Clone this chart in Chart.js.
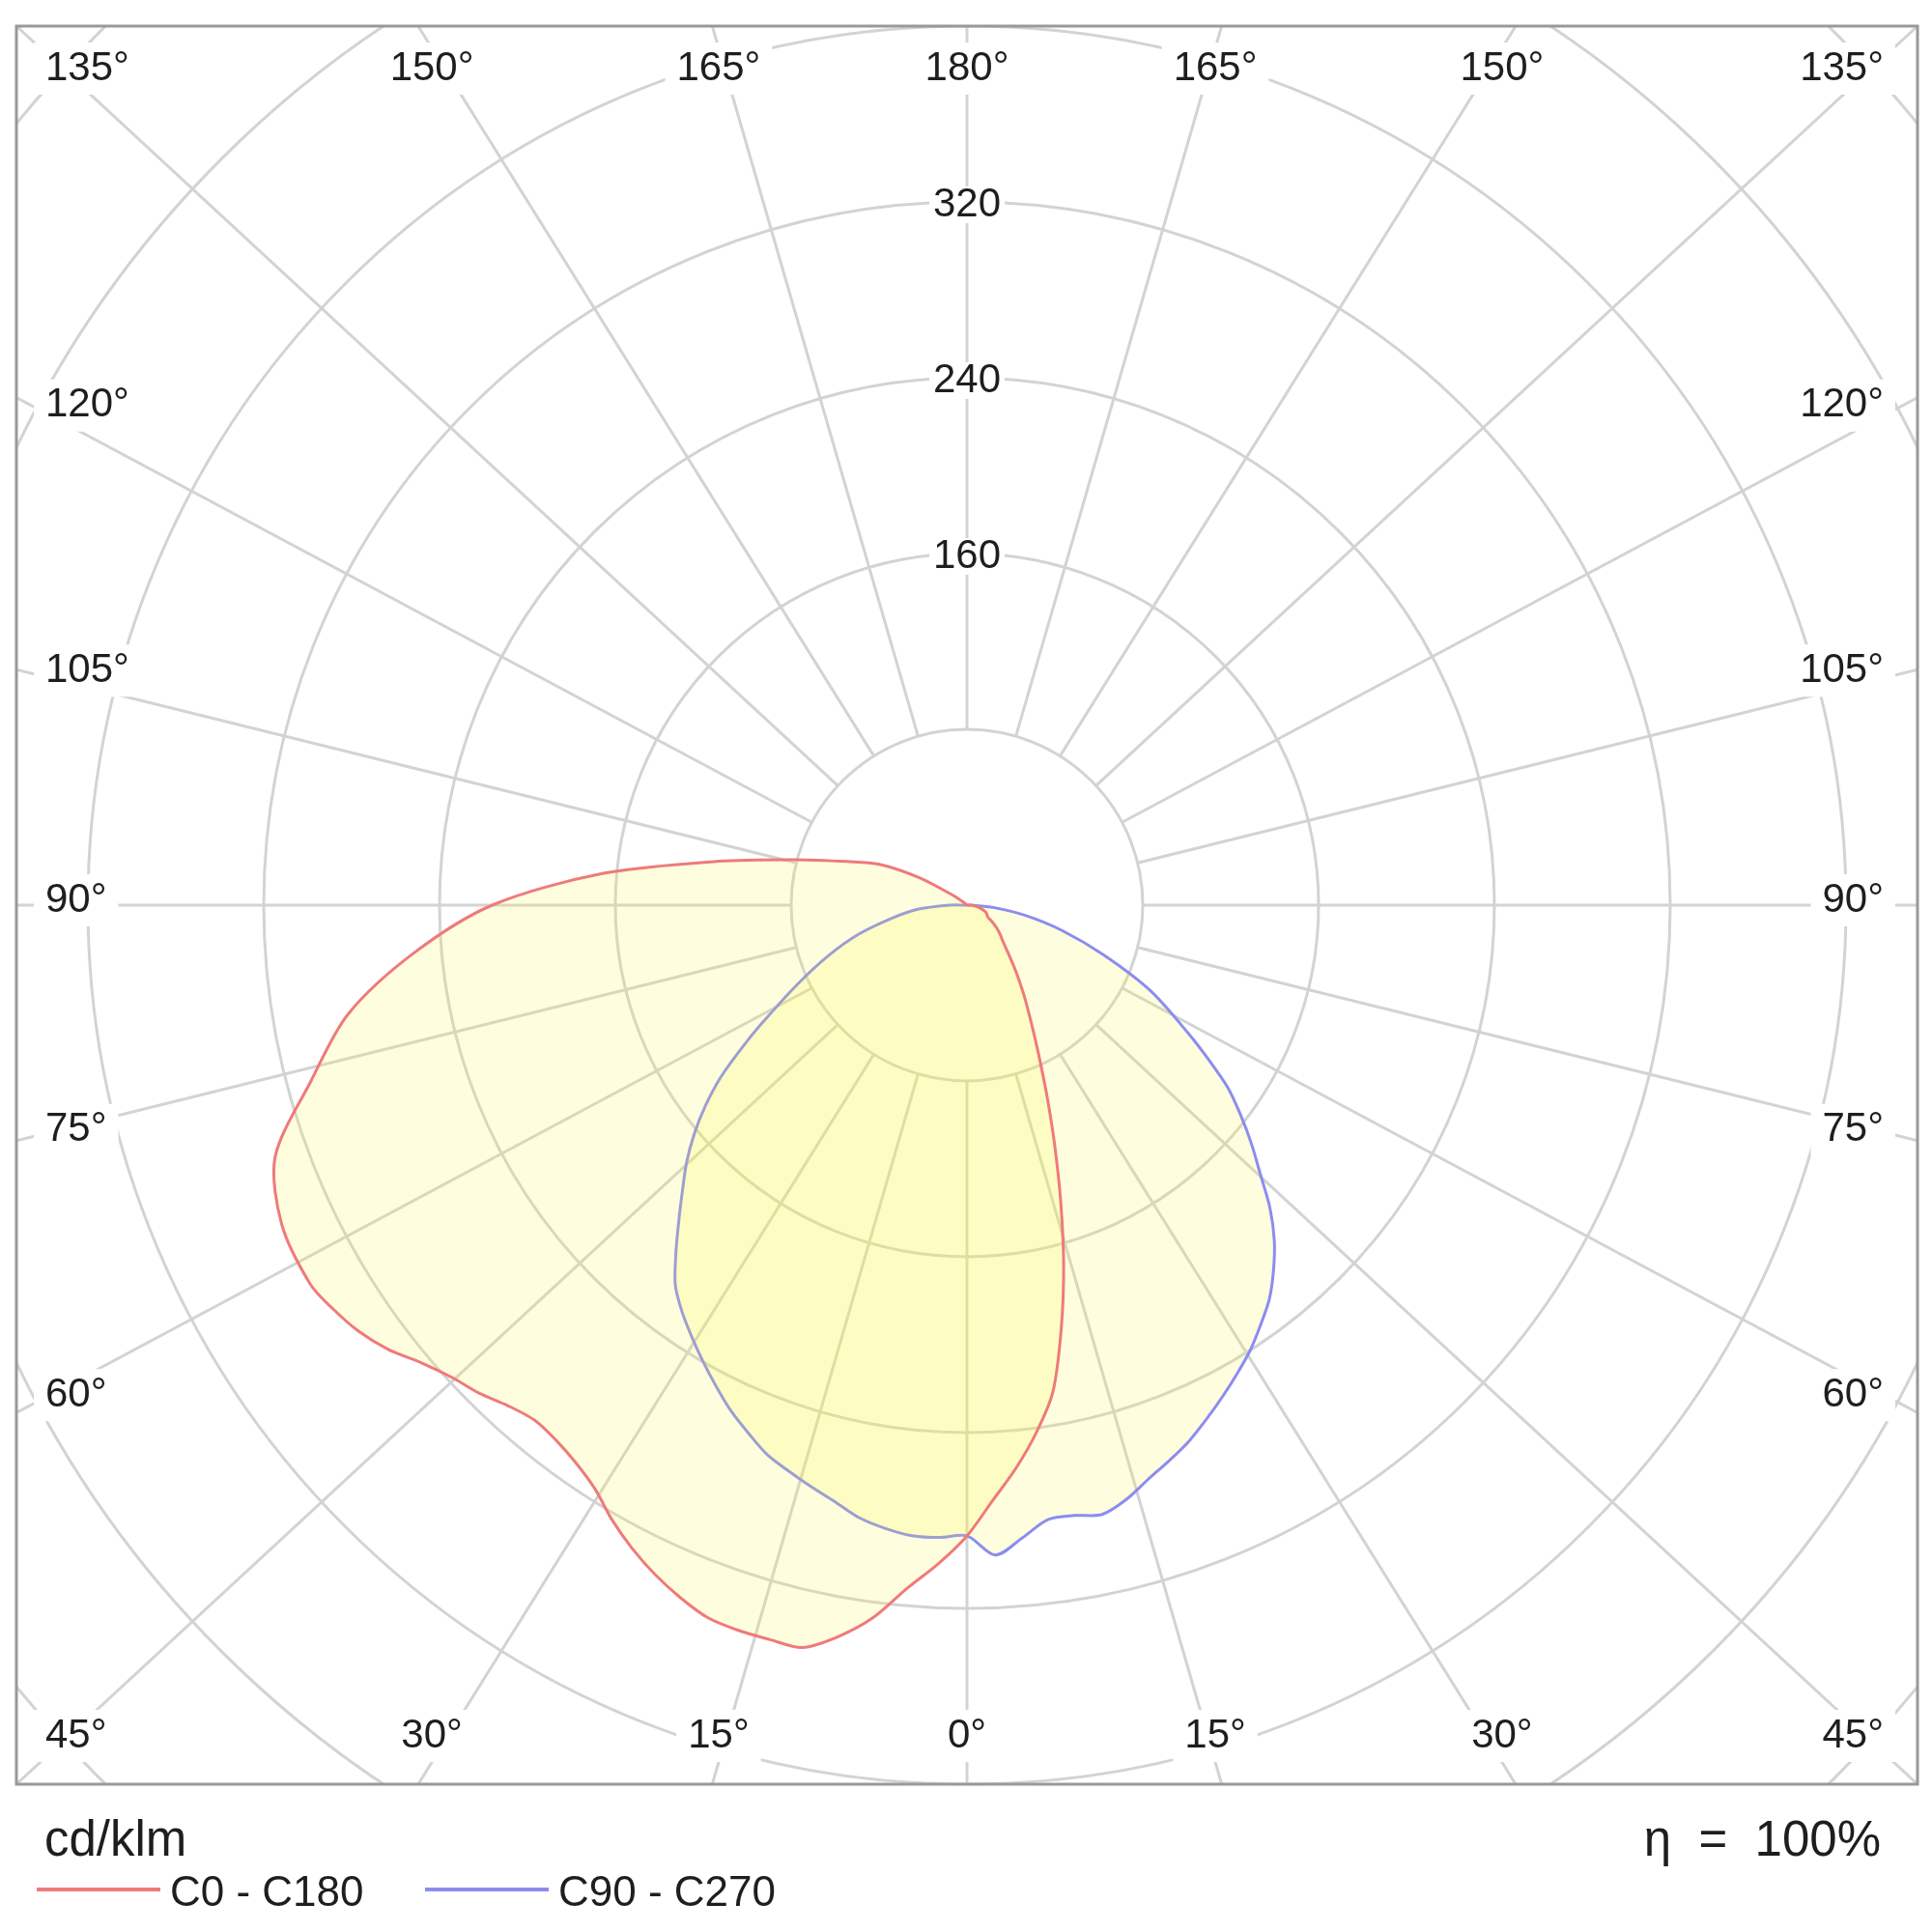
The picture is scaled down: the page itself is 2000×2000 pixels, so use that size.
<!DOCTYPE html>
<html>
<head>
<meta charset="utf-8">
<title>Polar luminous intensity diagram</title>
<script src="https://cdn.jsdelivr.net/npm/chart.js@4.4.1/dist/chart.umd.min.js"></script>
<style>
  html, body { margin: 0; padding: 0; background: #fff; }
  #wrap { width: 2000px; height: 2000px; }
</style>
</head>
<body>
<div id="wrap"><canvas id="polar" width="2000" height="2000"></canvas></div>
<script>
// gamma angles in degrees from nadir, shared by the four half planes
const angles = [0, 2.5, 5, 7.5, 10, 12.5, 15, 17.5, 20, 22.5, 25, 27.5, 30, 32.5, 35, 37.5,
  40, 42.5, 45, 47.5, 50, 52.5, 55, 57.5, 60, 65, 70, 75, 80, 85, 90, 95, 100, 105, 110,
  115, 120, 125, 130, 135, 140, 145, 150, 155, 160, 165, 170, 175, 180];

// cd/klm
const c180 = [287, 300, 312, 327, 338, 346, 346, 346, 345, 341, 336, 330, 323, 315, 310, 307,
  306, 309, 314, 318, 324, 332, 338, 342, 345, 344, 335, 309, 286, 253, 216, 166, 115, 80, 58,
  44, 25, 8, 2, 0, 0, 0, 0, 0, 0, 0, 0, 0, 0];
const c0 = [287, 271, 257, 242, 225, 198, 170, 142, 117, 96, 79, 66, 56, 48, 41, 35,
  30, 26, 23, 21, 19, 17, 15, 13, 11, 10, 9, 7, 5, 3, 2, 0, 0, 0, 0,
  0, 0, 0, 0, 0, 0, 0, 0, 0, 0, 0, 0, 0, 0];
const c270 = [287, 288, 288, 286, 283, 278, 274, 270, 266, 260, 254, 247, 240, 233, 226, 218,
  206, 194, 183, 173, 162, 150, 137, 122, 108, 85, 67, 51, 35, 23, 8, 0, 0, 0, 0,
  0, 0, 0, 0, 0, 0, 0, 0, 0, 0, 0, 0, 0, 0];
const c90 = [287, 296, 289, 282, 282, 284, 280, 274, 269, 264, 258, 252, 246, 240, 233, 226,
  217, 207, 195, 181, 169, 157, 145, 130, 116, 92, 66, 45, 27, 12, 2, 0, 0, 0, 0,
  0, 0, 0, 0, 0, 0, 0, 0, 0, 0, 0, 0, 0, 0];

const angleTicks = [0, 15, 30, 45, 60, 75, 90, 105, 120, 135, 150, 165, 180];
const ringValues = [80, 160, 240, 320, 400, 480, 560];
const ringLabels = [160, 240, 320];
const rMax = 400;
const seriesNames = ['C0 - C180', 'C90 - C270'];
const unitText = 'cd/klm';
const etaText = 'η = 100%';

const W = 2000, H = 2000;
const pad = { left: 17, top: 27, right: 15, bottom: 153 };
const xMax = rMax * (W - pad.left - pad.right) / (H - pad.top - pad.bottom);

const redLine = '#ef7a7a';
const blueLine = '#8c8cf0';
const fillColor = 'rgba(252, 252, 60, 0.17)';
const gridColor = '#d3d3d3';
const textColor = '#1e1e1e';
const FONT = '"Liberation Sans", Arial, sans-serif';

// side: -1 left half plane, +1 right half plane
function halfPlane(values, side) {
  return angles.map((a, i) => {
    const t = a * Math.PI / 180;
    return { x: side * values[i] * Math.sin(t), y: -values[i] * Math.cos(t) };
  });
}

function closedCurve(leftVals, rightVals) {
  const left = halfPlane(leftVals, -1).reverse();
  const right = halfPlane(rightVals, 1).slice(1);
  const pts = [];
  left.concat(right).forEach(p => {
    const last = pts[pts.length - 1];
    if (last && Math.abs(last.x - p.x) < 1e-9 && Math.abs(last.y - p.y) < 1e-9) return;
    pts.push(p);
  });
  return pts;
}

function boxedText(ctx, text, x, y, align, padX, padY) {
  const w = ctx.measureText(text).width;
  const x0 = align === 'left' ? x : align === 'right' ? x - w : x - w / 2;
  ctx.fillStyle = '#fff';
  ctx.fillRect(x0 - padX, y - 21 - padY, w + 2 * padX, 42 + 2 * padY);
  ctx.fillStyle = textColor;
  ctx.textAlign = align;
  ctx.fillText(text, x, y);
}

const polarGrid = {
  id: 'polarGrid',
  beforeDatasetsDraw(chart) {
    const { ctx, chartArea: area, scales: { x, y } } = chart;
    const cx = x.getPixelForValue(0), cy = y.getPixelForValue(0);
    const rpx = v => cy - y.getPixelForValue(v);
    const hw = x.getPixelForValue(x.max) - cx;
    const hh = cy - y.getPixelForValue(y.max);

    ctx.save();
    ctx.beginPath();
    ctx.rect(area.left, area.top, area.width, area.height);
    ctx.clip();

    ctx.strokeStyle = gridColor;
    ctx.lineWidth = 3;
    ringValues.forEach(v => {
      ctx.beginPath();
      ctx.arc(cx, cy, rpx(v), 0, Math.PI * 2);
      ctx.stroke();
    });

    // rays run from the inner ring out to the frame, spread to the frame's shape
    const r0 = rpx(ringValues[0]);
    const rays = [];
    angleTicks.forEach(a => {
      const sides = (a === 0 || a === 180) ? [1] : [-1, 1];
      sides.forEach(side => rays.push({ a, side }));
    });
    rays.forEach(({ a, side }) => {
      const t = a * Math.PI / 180;
      const s = Math.sin(t), c = Math.cos(t);
      const m = Math.max(Math.abs(s), Math.abs(c));
      const dx = side * s * hw, dy = c * hh;
      const len = Math.hypot(dx, dy);
      ctx.beginPath();
      ctx.moveTo(cx + dx / len * r0, cy + dy / len * r0);
      ctx.lineTo(cx + dx / m, cy + dy / m);
      ctx.stroke();
    });

    ctx.font = '42px ' + FONT;
    ctx.textBaseline = 'middle';
    rays.forEach(({ a, side }) => {
      const t = a * Math.PI / 180;
      const s = Math.sin(t), c = Math.cos(t);
      const m = Math.max(Math.abs(s), Math.abs(c));
      const nx = side * s / m, ny = c / m;
      let lx, ly, align;
      if (Math.abs(s) >= Math.abs(c) - 1e-6) {
        align = side < 0 ? 'left' : 'right';
        lx = side < 0 ? area.left + 30 : area.right - 35;
        if (Math.abs(Math.abs(s) - Math.abs(c)) < 1e-6) {
          ly = c < 0 ? area.top + 44 : area.bottom - 50;
        } else {
          ly = cy + ny * hh * 0.975 - 5;
        }
      } else {
        align = 'center';
        lx = cx + nx * hw * 0.975;
        ly = c < 0 ? area.top + 44 : area.bottom - 50;
      }
      boxedText(ctx, a + '°', lx, ly, align, 12, 6);
    });

    ringLabels.forEach(v => {
      boxedText(ctx, String(v), cx, cy - rpx(v) + 3, 'center', 4, -2);
    });
    ctx.restore();
  },
  afterDraw(chart) {
    const { ctx, chartArea: area } = chart;
    ctx.save();
    ctx.strokeStyle = '#999';
    ctx.lineWidth = 3;
    ctx.strokeRect(area.left, area.top, area.width, area.height);

    ctx.fillStyle = textColor;
    ctx.textBaseline = 'alphabetic';
    ctx.font = '51px ' + FONT;
    ctx.textAlign = 'left';
    ctx.fillText(unitText, area.left + 29, area.bottom + 74);
    ctx.textAlign = 'right';
    ctx.fillText(etaText.replace(' = ', '  =  '), area.right - 38, area.bottom + 74);

    ctx.font = '44px ' + FONT;
    ctx.textAlign = 'left';
    const legendY = area.bottom + 109;
    const items = [
      { text: seriesNames[0], color: redLine, x: 38 },
      { text: seriesNames[1], color: blueLine, x: 440 }
    ];
    items.forEach(it => {
      ctx.strokeStyle = it.color;
      ctx.lineWidth = 4;
      ctx.beginPath();
      ctx.moveTo(it.x, legendY);
      ctx.lineTo(it.x + 128, legendY);
      ctx.stroke();
      ctx.fillStyle = textColor;
      ctx.fillText(it.text, it.x + 138, legendY + 17);
    });
    ctx.restore();
  }
};

new Chart(document.getElementById('polar'), {
  type: 'scatter',
  data: {
    datasets: [
      {
        label: seriesNames[0],
        data: closedCurve(c180, c0),
        borderColor: redLine,
        backgroundColor: fillColor,
        fill: 'shape'
      },
      {
        label: seriesNames[1],
        data: closedCurve(c270, c90),
        borderColor: blueLine,
        backgroundColor: fillColor,
        fill: 'shape'
      }
    ]
  },
  options: {
    responsive: false,
    animation: false,
    devicePixelRatio: 1,
    events: [],
    layout: { padding: pad },
    showLine: true,
    elements: {
      point: { radius: 0 },
      line: { borderWidth: 3, tension: 0.3, borderJoinStyle: 'round' }
    },
    scales: {
      x: { type: 'linear', min: -xMax, max: xMax, display: false },
      y: { type: 'linear', min: -rMax, max: rMax, display: false }
    },
    plugins: {
      legend: { display: false },
      tooltip: { enabled: false }
    }
  },
  plugins: [polarGrid]
});
</script>
</body>
</html>
